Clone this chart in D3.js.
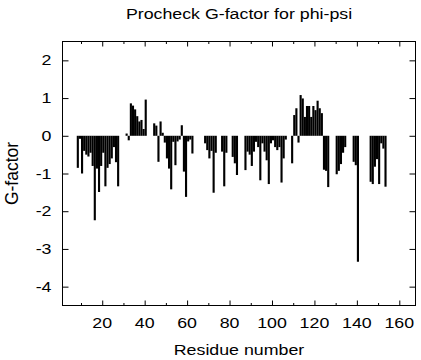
<!DOCTYPE html>
<html><head><meta charset="utf-8">
<script src="https://cdn.jsdelivr.net/npm/d3@7"></script>
<style>
html,body{margin:0;padding:0;background:#fff;}
text{font-family:"Liberation Sans",Arial,Helvetica,sans-serif;fill:#000;}
</style></head>
<body><svg id="c" width="421" height="360"></svg>
<script>
const residues = [8,9,10,11,12,13,14,15,16,17,18,19,20,21,22,23,24,25,26,27,
 31,32,33,34,35,36,37,38,39,40,
 44,45,46,47,48,49,50,51,52,53,54,55,56,57,58,59,60,61,62,
 68,69,70,71,72,73,76,77,78,81,82,83,
 87,88,89,90,91,92,93,94,95,96,97,98,99,100,101,102,103,104,105,106,
 109,110,111,112,113,114,115,116,117,118,119,120,121,122,123,124,125,126,
 130,131,132,133,134,138,139,140,
 146,147,148,149,150,151,152,153];
const gfactor = [-0.85,-0.08,-1.0,-0.4,-0.5,-0.55,-0.45,-0.8,-2.24,-0.87,-1.49,-0.8,-0.45,-1.34,-0.85,-0.75,-0.6,-0.3,-0.7,-1.34,
 0.06,-0.12,0.86,0.8,0.7,0.52,0.38,0.42,0.18,0.96,
 0.33,0.27,-0.69,0.38,0.08,-0.18,-0.6,-0.87,-1.42,-0.16,-0.78,-0.15,-0.1,0.28,-0.95,-1.62,-0.15,-0.1,-0.47,
 -0.2,-0.38,-0.6,-0.4,-1.51,-0.45,-0.42,-1.34,-0.45,-0.56,-0.73,-1.04,
 -0.91,-0.42,-0.5,-0.8,-0.42,-0.16,-0.3,-1.18,-0.2,-0.42,-0.65,-1.28,-0.2,-0.12,-0.3,-0.38,-0.3,-1.24,-0.6,-0.1,
 -0.73,0.55,0.73,-0.18,1.08,0.99,0.5,0.79,0.79,0.5,0.79,0.68,0.93,0.73,0.6,-0.9,-0.93,-1.36,
 -1.02,-0.93,-0.75,-0.45,-0.3,-0.69,-0.78,-3.34,
 -1.22,-1.28,-0.82,-0.62,-1.28,-0.2,-0.34,-1.35];
const xMajorTicks = [20,40,60,80,100,120,140,160];
const xMinorTicks = [10,30,50,70,90,110,130,150];
const yTicks = [-4,-3,-2,-1,0,1,2];
const titleText = "Procheck G-factor for phi-psi";
const xLabel = "Residue number";
const yLabel = "G-factor";

const svg = d3.select("#c");
const L = 62.5, R = 415.5, T = 41.5, B = 305.5;
const x = d3.scaleLinear().domain([1.28, 167.63]).range([L, R]);
const y = d3.scaleLinear().domain([-4.5, 2.5]).range([B, T]);
const SX = 1.27, FS = 14;

// bars
svg.append("g").selectAll("rect").data(residues.map((r,i)=>({r, v:gfactor[i]}))).join("rect")
  .attr("x", d => x(d.r))
  .attr("width", d => x(d.r+1) - x(d.r))
  .attr("y", d => y(Math.max(0, d.v)))
  .attr("height", d => Math.abs(y(d.v) - y(0)))
  .attr("fill", "#000");

// axes ticks (inward, mirrored)
function styleAxis(g){ g.select(".domain").remove(); g.selectAll("line").attr("stroke","#000"); g.selectAll("text").remove(); }
svg.append("g").attr("transform",`translate(0,${B})`).call(d3.axisBottom(x).tickValues(xMajorTicks).tickSize(-5)).call(styleAxis);
svg.append("g").attr("transform",`translate(0,${B})`).call(d3.axisBottom(x).tickValues(xMinorTicks).tickSize(-2.5)).call(styleAxis);
svg.append("g").attr("transform",`translate(0,${T})`).call(d3.axisTop(x).tickValues(xMajorTicks).tickSize(-5)).call(styleAxis);
svg.append("g").attr("transform",`translate(0,${T})`).call(d3.axisTop(x).tickValues(xMinorTicks).tickSize(-2.5)).call(styleAxis);
svg.append("g").attr("transform",`translate(${L},0)`).call(d3.axisLeft(y).tickValues(yTicks).tickSize(-6)).call(styleAxis);
svg.append("g").attr("transform",`translate(${R},0)`).call(d3.axisRight(y).tickValues(yTicks).tickSize(-6)).call(styleAxis);

// frame
svg.append("rect").attr("x",L).attr("y",T).attr("width",R-L).attr("height",B-T)
  .attr("fill","none").attr("stroke","#000").attr("stroke-width",1);

// labels
function txt(s, tx, ty, anchor){
  svg.append("text").attr("transform",`translate(${tx},${ty}) scale(${SX},1)`)
    .attr("text-anchor",anchor).attr("font-size",FS).text(s);
}
xMajorTicks.forEach(t => txt(String(t), x(t), 328, "middle"));
yTicks.forEach(t => txt(String(t), 51.5, y(t)+5, "end"));
txt(titleText, (L+R)/2, 19, "middle");
txt(xLabel, (L+R)/2, 355, "middle");
svg.append("text").attr("transform",`translate(18,${(T+B)/2}) rotate(-90)`)
  .attr("text-anchor","middle").attr("font-size",17.5).text(yLabel);
</script></body></html>
